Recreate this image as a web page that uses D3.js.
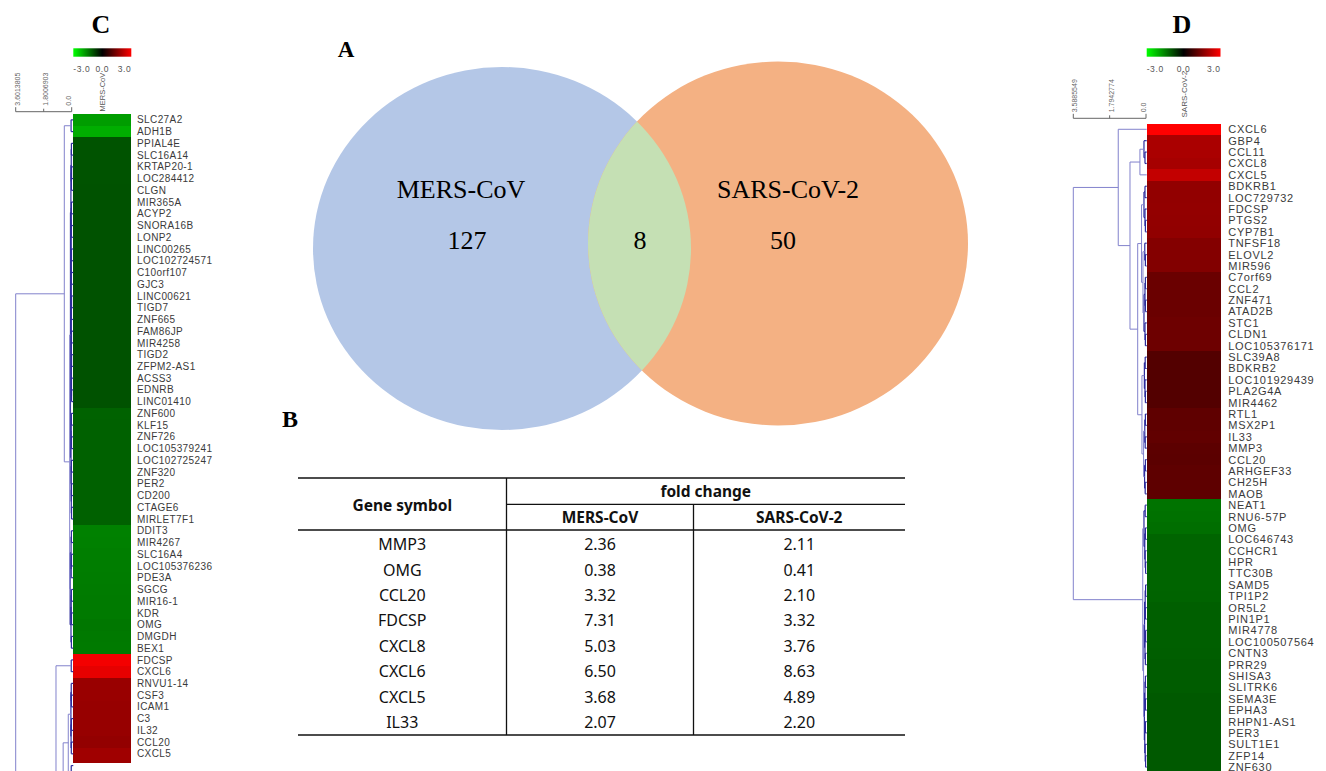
<!DOCTYPE html>
<html><head><meta charset="utf-8">
<script src="https://cdn.jsdelivr.net/npm/d3@7"></script>
<style>body{margin:0;background:#fff;} svg{display:block;}</style>
</head><body>
<svg id="c" width="1326" height="771"></svg>
<script>
// ================= DATA =================
const vennSets = ["MERS-CoV", "SARS-CoV-2"];
const vennCounts = [127, 50];
const vennOverlap = 8;

const tableHeaderGene = "Gene symbol";
const tableHeaderGroup = "fold change";
const tableGenes = ["MMP3","OMG","CCL20","FDCSP","CXCL8","CXCL6","CXCL5","IL33"];
const tableMERS  = ["2.36","0.38","3.32","7.31","5.03","6.50","3.68","2.07"];
const tableSARS  = ["2.11","0.41","2.10","3.32","3.76","8.63","4.89","2.20"];

const colorBarValues = [-3, 0, 3];
const colorBarLabels = ["-3.0", "0.0", "3.0"];

// Panel C (MERS-CoV) heatmap: log2 fold change
const mersGenes = ["SLC27A2","ADH1B","PPIAL4E","SLC16A14","KRTAP20-1","LOC284412","CLGN","MIR365A","ACYP2","SNORA16B",
  "LONP2","LINC00265","LOC102724571","C10orf107","GJC3","LINC00621","TIGD7","ZNF665","FAM86JP","MIR4258",
  "TIGD2","ZFPM2-AS1","ACSS3","EDNRB","LINC01410","ZNF600","KLF15","ZNF726","LOC105379241","LOC102725247",
  "ZNF320","PER2","CD200","CTAGE6","MIRLET7F1","DDIT3","MIR4267","SLC16A4","LOC105376236","PDE3A",
  "SGCG","MIR16-1","KDR","OMG","DMGDH","BEX1","FDCSP","CXCL6","RNVU1-14","CSF3",
  "ICAM1","C3","IL32","CCL20","CXCL5"];
const mersValues = [-1.85,-2.05,-0.98,-0.98,-0.98,-0.98,-0.97,-0.97,-0.97,-0.97,
  -0.97,-0.96,-0.96,-0.96,-0.96,-0.96,-0.96,-0.96,-0.96,-0.96,
  -0.96,-0.96,-0.96,-0.96,-0.96,-1.15,-1.14,-1.14,-1.14,-1.14,
  -1.14,-1.14,-1.14,-1.14,-1.14,-1.52,-1.5,-1.48,-1.47,-1.46,
  -1.45,-1.44,-1.43,-1.40,-1.42,-1.43,2.87,2.70,1.80,1.80,
  1.78,1.78,1.78,1.73,1.88,1.85];
const mersScaleTicks = [3.6013805, 1.8006903, 0.0];
const mersScaleLabels = ["3.6013805", "1.8006903", "0.0"];
// dendrogram: [mergeHeight, childA, childB]; numbers are row indices (100 = rows below the crop)
const mersTree =
 [3.6013805,
   [0.476,
     [0.04, 0, 1],
     [0.13,
       [0.08,
         [0.05,
           [0.03, [0.02, 2, 3], [0.02, [0.01, 4, 5], 6]],
           [0.04,
             [0.03, [0.02, 7, 8], [0.02, 9, 10]],
             [0.035,
               [0.025, [0.015, 11, 12], [0.02, 13, 14]],
               [0.03,
                 [0.02, [0.01, 15, 16], 17],
                 [0.025, [0.015, 18, 19], [0.02, [0.01, 20, 21], [0.015, 22, [0.01, 23, 24]]]]]]]],
         [0.045, [0.03, [0.02, 25, 26], [0.015, 27, 28]], [0.035, [0.02, 29, 30], [0.025, [0.015, 31, 32], [0.01, 33, 34]]]]],
       [0.1, [0.04, [0.02, 35, 36], [0.03, [0.015, 37, 38], 39]], [0.045, [0.03, [0.02, 40, 41], [0.015, 42, 43]], [0.02, 44, 45]]]]],
   [1.01,
     [0.03, 46, 47],
     [0.55,
       [0.22,
         [0.05, [0.03, 48, [0.02, 49, 50]], [0.04, [0.02, 51, 52], [0.025, 53, 54]]],
         [0.03, 55, 56]],
       100]]];

// Panel D (SARS-CoV-2) heatmap: log2 fold change
const sarsGenes = ["CXCL6","GBP4","CCL11","CXCL8","CXCL5","BDKRB1","LOC729732","FDCSP","PTGS2","CYP7B1",
  "TNFSF18","ELOVL2","MIR596","C7orf69","CCL2","ZNF471","ATAD2B","STC1","CLDN1","LOC105376171",
  "SLC39A8","BDKRB2","LOC101929439","PLA2G4A","MIR4462","RTL1","MSX2P1","IL33","MMP3","CCL20",
  "ARHGEF33","CH25H","MAOB","NEAT1","RNU6-57P","OMG","LOC646743","CCHCR1","HPR","TTC30B",
  "SAMD5","TPI1P2","OR5L2","PIN1P1","MIR4778","LOC100507564","CNTN3","PRR29","SHISA3","SLITRK6",
  "SEMA3E","EPHA3","RHPN1-AS1","PER3","SULT1E1","ZFP14","ZNF630"];
const sarsValues = [3.11,2.0,2.0,1.95,2.29,1.72,1.72,1.73,1.72,1.70,
  1.55,1.55,1.53,1.25,1.25,1.25,1.25,1.28,1.28,1.28,
  0.98,0.98,0.98,0.98,0.98,1.12,1.12,1.14,1.08,1.07,
  1.10,1.10,1.10,-1.35,-1.33,-1.29,-1.18,-1.18,-1.18,-1.18,
  -1.18,-1.16,-1.12,-1.12,-1.12,-1.12,-1.10,-1.08,-1.08,-1.08,
  -1.05,-1.05,-1.05,-1.05,-1.05,-1.05,-1.05];
const sarsScaleTicks = [3.5885549, 1.7942774, 0.0];
const sarsScaleLabels = ["3.5885549", "1.7942774", "0.0"];
const sarsTree =
 [3.5885549,
   [1.37, 0,
     [0.79,
       [0.3, [0.1, 1, [0.05, 2, 3]], 4],
       [0.41,
         [0.22, [0.1, [0.05, 5, 6], [0.05, 7, [0.03, 8, 9]]], [0.15, [0.06, 10, [0.03, 11, 12]], [0.1, [0.05, [0.03, 13, 14], [0.03, 15, 16]], [0.05, 17, [0.03, 18, 19]]]]],
         [0.2, [0.08, [0.04, 20, 21], [0.05, 22, [0.03, 23, 24]]], [0.12, [0.06, [0.03, 25, 26], [0.04, 27, 28]], [0.07, [0.03, 29, 30], [0.04, 31, 32]]]]]]],
   [0.16,
     [0.1, [0.04, 33, 34], [0.06, [0.03, 35, 36], [0.04, 37, [0.02, 38, 39]]]],
     [0.12, [0.07, [0.04, [0.02, 40, 41], [0.03, 42, 43]], [0.05, [0.02, 44, 45], [0.03, 46, 47]]], [0.08, [0.05, [0.03, 48, 49], [0.03, 50, 51]], [0.06, [0.03, 52, 53], [0.04, 54, [0.02, 55, 56]]]]]]];

// ================= DRAW =================
const svg = d3.select("#c");
const defs = svg.append("defs");
const color = d3.scaleLinear().domain([-3, 0, 3]).range(["#00ff00", "#000000", "#ff0000"]).clamp(true);

// ---------- Venn (A) ----------
const venn = svg.append("g");
const ellA = {cx: 502, cy: 248.5, rx: 189, ry: 181.5};
const ellB = {cx: 778, cy: 243.5, rx: 190, ry: 182};
defs.append("clipPath").attr("id", "clipA").append("ellipse")
  .attr("cx", ellA.cx).attr("cy", ellA.cy).attr("rx", ellA.rx).attr("ry", ellA.ry);
venn.append("ellipse").attr("cx", ellA.cx).attr("cy", ellA.cy).attr("rx", ellA.rx).attr("ry", ellA.ry).attr("fill", "#B4C7E7");
venn.append("ellipse").attr("cx", ellB.cx).attr("cy", ellB.cy).attr("rx", ellB.rx).attr("ry", ellB.ry).attr("fill", "#F4B183");
venn.append("ellipse").attr("clip-path", "url(#clipA)")
  .attr("cx", ellB.cx).attr("cy", ellB.cy).attr("rx", ellB.rx).attr("ry", ellB.ry).attr("fill", "#C5E0B4");
const vennFont = "'Liberation Serif','Times New Roman',serif";
const vt = (x, y, t) => venn.append("text").attr("x", x).attr("y", y).attr("text-anchor", "middle")
  .attr("font-family", vennFont).attr("font-size", 26).attr("fill", "#000").text(t);
vt(461, 198, vennSets[0]);
vt(788, 198, vennSets[1]);
vt(467, 249, vennCounts[0]);
vt(640, 249, vennOverlap);
vt(783, 249, vennCounts[1]);

// panel letters
const letter = (x, y, t, s) => svg.append("text").attr("x", x).attr("y", y).attr("text-anchor", "middle")
  .attr("font-family", vennFont).attr("font-weight", "bold").attr("font-size", s).attr("fill", "#000").text(t);
letter(346, 57, "A", 23);
letter(290, 426.5, "B", 24);
letter(101, 33, "C", 26);
letter(1182, 33, "D", 26);

// ---------- Table (B) ----------
const tb = svg.append("g");
const colEdges = [298, 506.5, 693.5, 905];
const tblTop = 478, tblMid = 504.3, tblHead = 530, tblBot = 735;
const rowY = d3.scaleBand().domain(d3.range(tableGenes.length)).range([532, 735]);
const colC = i => (colEdges[i] + colEdges[i + 1]) / 2;
const ln = (x1, y1, x2, y2, w) => tb.append("line").attr("x1", x1).attr("y1", y1).attr("x2", x2).attr("y2", y2)
  .attr("stroke", "#111").attr("stroke-width", w);
ln(colEdges[0], tblTop, colEdges[3], tblTop, 1.6);
ln(colEdges[1], tblMid, colEdges[3], tblMid, 1.3);
ln(colEdges[0], tblHead, colEdges[3], tblHead, 1.4);
ln(colEdges[0], tblBot, colEdges[3], tblBot, 1.6);
ln(colEdges[1], tblTop, colEdges[1], tblBot, 1.3);
ln(colEdges[2], tblMid, colEdges[2], tblBot, 1.3);
const tFont = "'Noto Sans','Open Sans',sans-serif";
const tt = (x, y, t, bold) => tb.append("text").attr("x", x).attr("y", y).attr("dy", "0.35em")
  .attr("text-anchor", "middle").attr("font-family", tFont).attr("font-size", bold ? 15.5 : 16)
  .attr("font-weight", bold ? "bold" : "normal").attr("fill", "#111").text(t);
tt(colC(0), 506, tableHeaderGene, true);
tt((colEdges[1] + colEdges[3]) / 2, 492, tableHeaderGroup, true);
tt(colC(1), 518, vennSets[0], true);
tt(colC(2), 518, vennSets[1], true);
tableGenes.forEach((g, i) => {
  const y = rowY(i) + rowY.bandwidth() / 2;
  tt(colC(0), y, g, false);
  tt(colC(1), y, tableMERS[i], false);
  tt(colC(2), y, tableSARS[i], false);
});

// ---------- Heatmaps (C, D) ----------
const gradStops = colorBarValues.map(v => ({off: (v + 3) / 6, c: color(v)}));
const grad = defs.append("linearGradient").attr("id", "cbGrad").attr("x1", "0%").attr("x2", "100%");
grad.selectAll("stop").data(gradStops).join("stop").attr("offset", d => d.off).attr("stop-color", d => d.c);

function heatPanel(cfg) {
  const g = svg.append("g");
  const yIdx = d3.scaleLinear().domain([0, 1]).range([cfg.top, cfg.top + cfg.rowH]);
  const rowC = i => yIdx(i + 0.5);
  // clip for cells
  defs.append("clipPath").attr("id", cfg.id + "Clip").append("rect")
    .attr("x", 0).attr("y", 0).attr("width", 1326).attr("height", cfg.clipBottom);
  g.append("g").attr("clip-path", `url(#${cfg.id}Clip)`)
    .selectAll("rect").data(cfg.values).join("rect")
    .attr("x", cfg.left).attr("width", cfg.right - cfg.left)
    .attr("y", (d, i) => yIdx(i)).attr("height", (d, i) => yIdx(i + 1) - yIdx(i) + 0.6)
    .attr("shape-rendering", "crispEdges")
    .attr("fill", d => color(d));
  // labels
  g.selectAll("text.lab").data(cfg.genes).join("text").attr("class", "lab")
    .attr("x", cfg.labelX).attr("y", (d, i) => rowC(i)).attr("dy", "0.36em")
    .attr("font-family", "'Liberation Sans',Arial,sans-serif").attr("font-size", cfg.labelSize)
    .attr("letter-spacing", cfg.labelSpacing).attr("fill", "#3a3a3a").text(d => d);
  // color bar
  const cb = d3.scaleLinear().domain([-3, 3]).range([cfg.left, cfg.right]);
  g.append("rect").attr("x", cb(-3)).attr("y", 48.3).attr("width", cb(3) - cb(-3)).attr("height", 8.4)
    .attr("fill", "url(#cbGrad)");
  g.selectAll("text.cbl").data(colorBarValues).join("text").attr("class", "cbl")
    .attr("x", d => cb(d)).attr("y", 69).attr("dy", "0.35em")
    .attr("text-anchor", (d, i) => ["start", "middle", "end"][i])
    .attr("font-family", "'Liberation Sans',Arial,sans-serif").attr("font-size", 8.5)
    .attr("letter-spacing", 0.6).attr("fill", "#555").text((d, i) => colorBarLabels[i]);
  // column label
  g.append("text").attr("transform", `translate(${(cfg.left + cfg.right) / 2 + 3},${cfg.colLabelBottom}) rotate(-90)`)
    .attr("font-family", "'Liberation Sans',Arial,sans-serif").attr("font-size", cfg.colLabelSize)
    .attr("fill", "#555").text(cfg.colLabel);
  // dendrogram scale
  const hx = d3.scaleLinear().domain([0, cfg.scaleTicks[0]]).range([cfg.zeroX, cfg.rootX]);
  const sy = cfg.scaleY;
  g.append("line").attr("x1", hx(cfg.scaleTicks[0])).attr("x2", hx(0)).attr("y1", sy).attr("y2", sy)
    .attr("stroke", "#666").attr("stroke-width", 1);
  g.selectAll("line.tk").data(cfg.scaleTicks).join("line").attr("class", "tk")
    .attr("x1", d => hx(d)).attr("x2", d => hx(d)).attr("y1", sy).attr("y2", (d, i) => sy - (i === 1 ? 3 : 4.5))
    .attr("stroke", "#666").attr("stroke-width", 1);
  g.selectAll("text.tkl").data(cfg.scaleTicks).join("text").attr("class", "tkl")
    .attr("transform", (d, i) => `translate(${hx(d) + (i === 2 ? -0.5 : 4)},${sy - 6}) rotate(-90)`)
    .attr("font-family", "'Liberation Sans',Arial,sans-serif").attr("font-size", 7)
    .attr("fill", "#666").text((d, i) => cfg.scaleLabels[i]);
  // dendrogram
  const segs = [];
  function walk(node) {
    if (typeof node === "number") return {x: cfg.left, y: rowC(node)};
    const [h, a, b] = node;
    const A = walk(a), B = walk(b);
    const x = hx(h);
    segs.push({x1: x, y1: A.y, x2: x, y2: B.y, h});
    segs.push({x1: x, y1: A.y, x2: A.x, y2: A.y, h});
    segs.push({x1: x, y1: B.y, x2: B.x, y2: B.y, h});
    return {x, y: (A.y + B.y) / 2};
  }
  walk(cfg.tree);
  g.append("g").selectAll("line").data(segs).join("line")
    .attr("x1", d => d.x1).attr("y1", d => d.y1).attr("x2", d => d.x2).attr("y2", d => d.y2)
    .attr("stroke", d => d.h < 0.12 ? "#2c2c9c" : "#8282cc")
    .attr("stroke-width", d => d.h < 0.12 ? 1.2 : 1);
}

heatPanel({
  id: "mers", genes: mersGenes, values: mersValues, tree: mersTree,
  top: 114, rowH: 11.74, left: 73.3, right: 131.3, clipBottom: 763,
  labelX: 137, labelSize: 10, labelSpacing: 0.4,
  colLabel: vennSets[0], colLabelBottom: 111.5, colLabelSize: 7.5,
  scaleTicks: mersScaleTicks, scaleLabels: mersScaleLabels,
  zeroX: 71.7, rootX: 15.7, scaleY: 111.7
});
heatPanel({
  id: "sars", genes: sarsGenes, values: sarsValues, tree: sarsTree,
  top: 123.6, rowH: 11.39, left: 1146.7, right: 1220.5, clipBottom: 771,
  labelX: 1228.3, labelSize: 11, labelSpacing: 0.7,
  colLabel: vennSets[1], colLabelBottom: 117.5, colLabelSize: 8,
  scaleTicks: sarsScaleTicks, scaleLabels: sarsScaleLabels,
  zeroX: 1146, rootX: 1073.3, scaleY: 118.3
});
</script>
</body></html>
